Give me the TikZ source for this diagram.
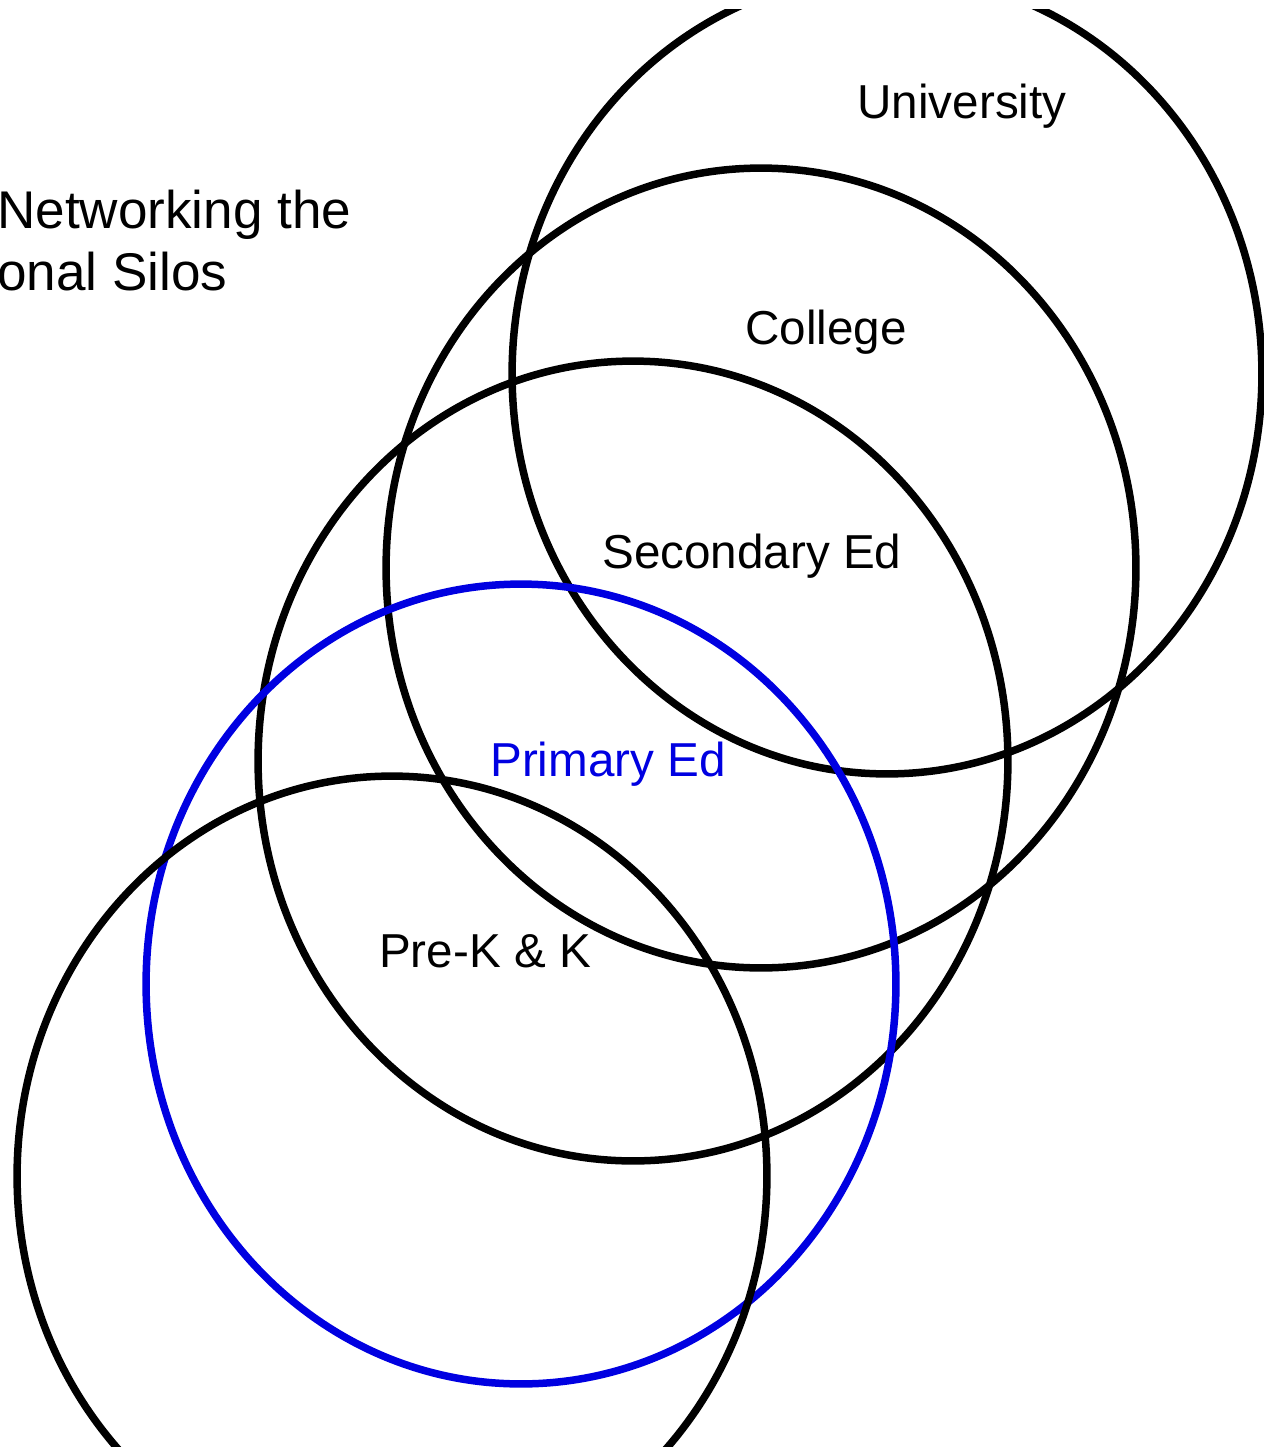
\documentclass[tikz,border=0pt]{standalone}
\usepackage{fontspec}
\setmainfont{Liberation Sans}
\usetikzlibrary{shapes.geometric}
\definecolor{primaryblue}{RGB}{0,0,225}

\begin{document}
\begin{tikzpicture}[
x=0.02cm, y=-0.02cm,
silo/.style={draw, ellipse, line width=0.15cm, inner sep=0pt, minimum width=15cm, minimum height=16cm},
label/.style={anchor=base, inner sep=0pt, font=\fontsize{27.1}{32}\selectfont},
title/.style={anchor=base west, inner sep=0pt, font=\fontsize{30.2}{35}\selectfont}
]
\useasboundingbox (0,0) rectangle (1264,1447);
\clip (0,9) rectangle (1264,1447);

\node (university) [silo] at (887,374) {};
\node (college) [silo] at (761,568) {};
\node (secondary) [silo] at (633,761) {};
\node (primary) [silo, primaryblue] at (521,984) {};
\node (prek) [silo] at (392,1176) {};

\node (unilabel) [label] at (962,118) {University};
\node (collabel) [label] at (826,344) {College};
\node (seclabel) [label] at (752,568) {Secondary Ed};
\node (primlabel) [label, text=primaryblue] at (608,776) {Primary Ed};
\node (preklabel) [label] at (485,967) {Pre-K \& K};

\node (title1) [title] at (-3,228) {Networking the};
\node (title2) [title] at (-3,290) {onal Silos};

\end{tikzpicture}
\end{document}
